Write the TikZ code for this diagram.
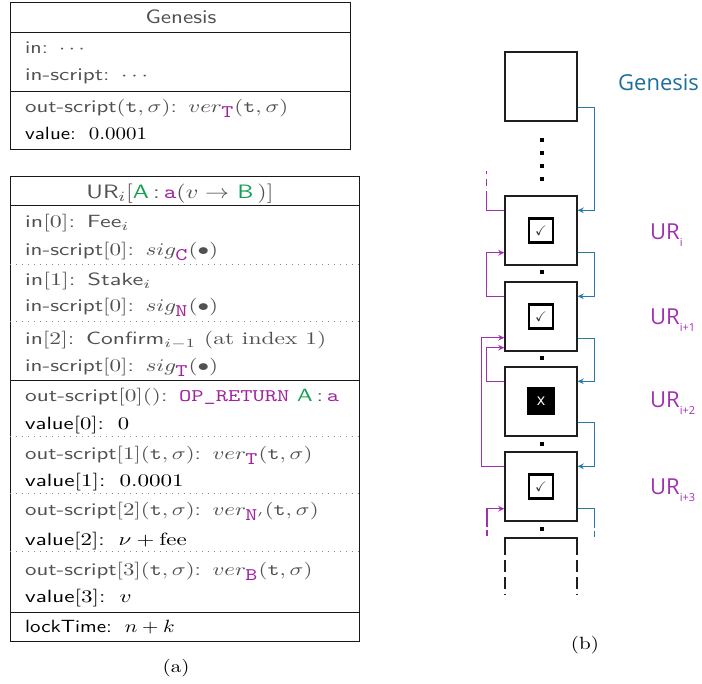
\documentclass[tikz,border=0pt]{standalone}
\usepackage{amssymb}
\usepackage{fontspec}
\usepackage{graphicx}
\newfontfamily\osans{Open Sans}
\usetikzlibrary{arrows.meta,calc}
\definecolor{txtgray}{HTML}{505050}
\definecolor{pur}{HTML}{9E249E}
\definecolor{grn}{HTML}{12A050}
\definecolor{blu}{HTML}{2A78A6}
\definecolor{bluL}{HTML}{1F6E9C}
\definecolor{purr}{HTML}{A22EB4}
\newcommand{\hs}[2][1]{\scalebox{\fpeval{2.1*#1}}[1.77]{#2}}
\newcommand{\hh}[2][1]{\scalebox{\fpeval{2.1*#1}}[1.77]{\fontsize{10.95}{13}\selectfont #2}}
\newcommand{\ptt}[1]{\textcolor{pur}{\texttt{#1}}}
\newcommand{\gA}{\textcolor{grn}{A}}
\newcommand{\gB}{\textcolor{grn}{B}}
\newcommand{\subl}[1]{\raisebox{-7pt}{\fontsize{11}{11}\selectfont #1}}
\tikzset{
  tl/.style={anchor=base west, inner sep=0pt, text=txtgray, font=\sffamily},
  tlk/.style={tl, text=black},
  th/.style={tl, anchor=base},
  frm/.style={draw=black!90, line width=1pt},
  dsep/.style={draw=black!45, line width=1pt, dash pattern=on 1.2pt off 4.8pt},
  blk/.style={draw=black!88, line width=1.4pt, minimum width=72pt, minimum height=69pt, inner sep=0pt, fill=white},
  chk/.style={draw=black, line width=2.2pt, minimum size=24pt, inner sep=0pt, fill=white, text=black!80, font=\fontsize{14}{14}\selectfont},
  xbx/.style={fill=black, minimum size=28pt, inner sep=0pt, text=white, font=\osans\fontsize{16}{16}\selectfont},
  dt/.style={fill=black, minimum size=4.2pt, inner sep=0pt},
  bl/.style={draw=blu, line width=1.3pt},
  pul/.style={draw=purr, line width=1.3pt},
  barr/.style={bl, -{Stealth[length=6pt,width=5.5pt]}},
  parr/.style={pul, -{Stealth[length=6pt,width=5.5pt]}},
  lab/.style={anchor=base west, inner sep=0pt, font=\osans\fontsize{22}{24}\selectfont},
  captxt/.style={anchor=base, inner sep=0pt},
}
\begin{document}
\begin{tikzpicture}[x=1pt,y=-1pt]
\useasboundingbox (0,0) rectangle (702,684);

% ---------------- Genesis table ----------------
\draw[frm] (10,3) rectangle (350,150);
\draw[frm] (10,33) -- (350,33);
\draw[frm] (10,92) -- (350,92);
\node[th] (gh) at (181,24) {\hh{Genesis}};
\node[tl] (g1) at (25,53.5) {\hs[1.05]{in:\ \,$\cdots$}};
\node[tl] (g2) at (25,81) {\hs[1.1]{in-script:\ \,$\cdots$}};
\node[tl] (g3) at (25,113) {\hs[1.09]{out-script$(\texttt{t},\sigma)$:\ \,$ver_{\ptt{T}}(\texttt{t},\sigma)$}};
\node[tlk] (g4) at (25,140) {\hs{value:\ \;$0.0001$}};

% ---------------- UR table ----------------
\draw[frm] (10,177) rectangle (359,641);
\draw[frm] (10,206) -- (359,206);
\draw[dsep] (10,265) -- (359,265);
\draw[dsep] (10,322) -- (359,322);
\draw[frm] (10,381) -- (359,381);
\draw[dsep] (10,437) -- (359,437);
\draw[dsep] (10,494) -- (359,494);
\draw[dsep] (10,552) -- (359,552);
\draw[frm] (10,612) -- (359,612);
\node[th] (uh) at (180,198.5) {\hh[1.05]{UR$_i[$\gA\,:\,\ptt{a}$(v\rightarrow$ \gB$\,)]$}};
\node[tl] (r1) at (25,227.5) {\hs[1.14]{in$[0]$:\ \,Fee$_i$}};
\node[tl] (r2) at (25,256) {\hs[1.1]{in-script$[0]$:\ \,$sig_{\ptt{C}}(\bullet)$}};
\node[tl] (r3) at (25,286) {\hs[1.15]{in$[1]$:\ \,Stake$_i$}};
\node[tl] (r4) at (25,312) {\hs[1.1]{in-script$[0]$:\ \,$sig_{\ptt{N}}(\bullet)$}};
\node[tl] (r5) at (25,344.5) {\hs[1.12]{in$[2]$:\ \,Confirm$_{i-1}$\ \textrm{(at index 1)}}};
\node[tl] (r6) at (25,371.5) {\hs[1.1]{in-script$[0]$:\ \,$sig_{\ptt{T}}(\bullet)$}};
\node[tl] (r7) at (25,402) {\hs[1.11]{out-script$[0]()$:\ \,\ptt{OP\_RETURN} \gA\,:\,\ptt{a}}};
\node[tlk] (r8) at (25,430) {\hs[1.08]{value$[0]$:\ \;$0$}};
\node[tl] (r9) at (25,459.5) {\hs[1.09]{out-script$[1](\texttt{t},\sigma)$:\ \,$ver_{\ptt{T}}(\texttt{t},\sigma)$}};
\node[tlk] (r10) at (25,487) {\hs[1.1]{value$[1]$:\ \;$0.0001$}};
\node[tl] (r11) at (25,516) {\hs[1.09]{out-script$[2](\texttt{t},\sigma)$:\ \,$ver_{\ptt{N}'}(\texttt{t},\sigma)$}};
\node[tlk] (r12) at (25,545) {\hs[1.09]{value$[2]$:\ \;$\nu+\mathrm{fee}$}};
\node[tl] (r13) at (25,575.5) {\hs[1.09]{out-script$[3](\texttt{t},\sigma)$:\ \,$ver_{\ptt{B}}(\texttt{t},\sigma)$}};
\node[tlk] (r14) at (25,602) {\hs[1.1]{value$[3]$:\ \;$v$}};
\node[tlk] (r15) at (25,632) {\hs{lockTime:\ \;$n+k$}};
\node[captxt] (capa) at (176,672) {\hs{(a)}};

% ---------------- right panel ----------------
\node[blk] (gb) at (541,86.5) {};
\node[blk] (u0) at (541,230.5) {};
\node[blk] (u1) at (541,316.5) {};
\node[blk] (u2) at (541,401.5) {};
\node[blk] (u3) at (541,486.5) {};
\node[chk] (c0) at (u0.center) {$\checkmark$};
\node[chk] (c1) at (u1.center) {$\checkmark$};
\node[xbx] (c2) at (u2.center) {x};
\node[chk] (c3) at (u3.center) {$\checkmark$};

\node[dt] (d1) at (542,140) {};
\node[dt] (d2) at (542,153) {};
\node[dt] (d3) at (542,166) {};
\node[dt] (d4) at (542,179) {};
\node[dt] (d5) at (542,272) {};
\node[dt] (d6) at (542,358) {};
\node[dt] (d7) at (542,444) {};
\node[dt] (d8) at (542,529) {};

% partial box
\coordinate (pbl) at (505,538);
\coordinate (pbr) at (577,538);
\draw[draw=black!88, line width=1.4pt] (505,555) -- (pbl) -- (pbr) -- (577,555);
\draw[draw=black!88, line width=1.4pt, dash pattern=on 12pt off 5pt] (505,560) -- (505,595);
\draw[draw=black!88, line width=1.4pt, dash pattern=on 12pt off 5pt] (577,560) -- (577,595);

% blue connectors
\draw[barr] ([yshift=14pt]gb.south east) -- ++(17,0) |- ([yshift=-15pt]u0.north east);
\draw[barr] ([yshift=13pt]u0.south east) -- ++(17,0) |- ([yshift=-15pt]u1.north east);
\draw[barr] ([yshift=13pt]u1.south east) -- ++(17,0) |- ([yshift=-15pt]u2.north east);
\draw[barr] ([yshift=14pt]u2.south east) -- ++(17,0) |- ([yshift=-15pt]u3.north east);
\draw[bl] ([yshift=13pt]u3.south east) -- ++(17,0) -- ++(0,19) coordinate (be);
\draw[bl] (be) ++(0,3) -- ++(0,6);

% purple connectors
\draw[parr] ([yshift=-15pt]u1.north west) -- ++(-18,0) |- ([yshift=13pt]u0.south west);
\draw[parr] ([yshift=-15pt]u2.north west) -- ++(-18,0) |- ([yshift=4pt]u1.south west);
\draw[parr] ([yshift=-15pt]u3.north west) -- ++(-23,0) |- ([yshift=14pt]u1.south west);
\draw[pul] ([yshift=-15pt]u0.north west) -- ++(-18,0) -- ++(0,-19) coordinate (pt0);
\draw[pul, dash pattern=on 7pt off 5pt] (pt0) ++(0,-5) -- ++(0,-15);
\coordinate (pb) at (487,527);
\draw[parr] (pb) |- ([yshift=13pt]u3.south west);
\draw[pul] (pb) ++(0,3) -- ++(0,6);

% labels
\node[lab, text=bluL] (lg) at (618,91) {Genesis};
\node[lab, text=purr] (l0) at (650,240) {UR\subl{i}};
\node[lab, text=purr] (l1) at (650,325) {UR\subl{i+1}};
\node[lab, text=purr] (l2) at (650,408) {UR\subl{i+2}};
\node[lab, text=purr] (l3) at (650,495) {UR\subl{i+3}};
\node[captxt] (capb) at (585,649) {\hs{(b)}};
\end{tikzpicture}
\end{document}
